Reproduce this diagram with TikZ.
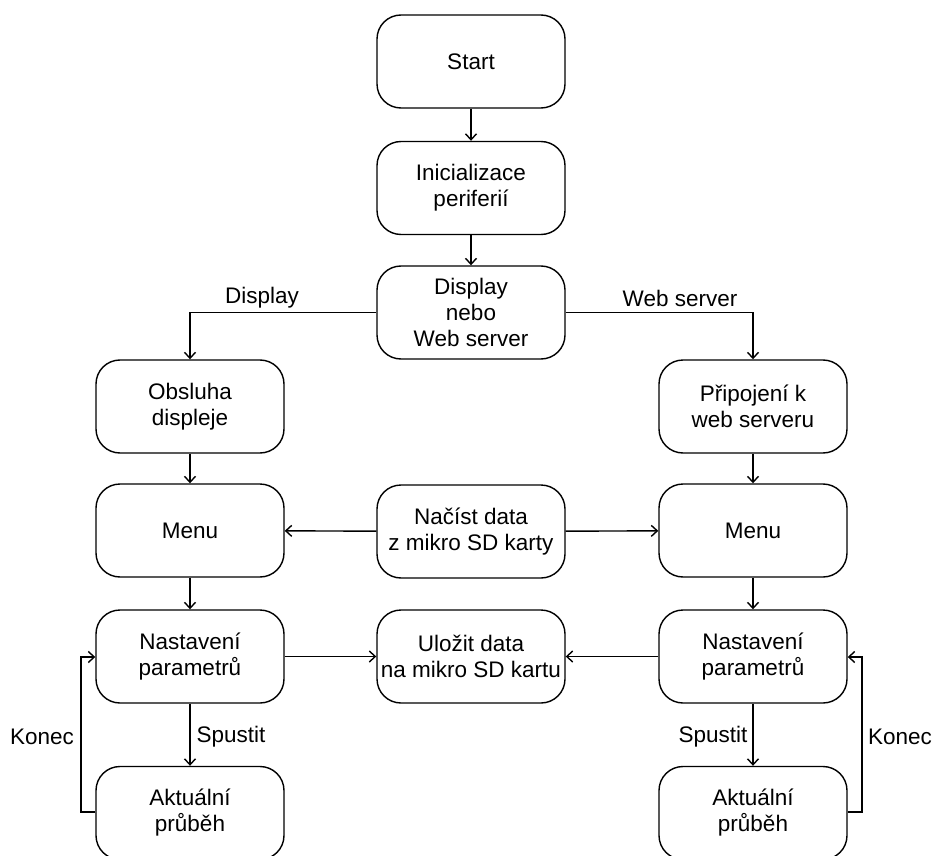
\documentclass[tikz,border=0pt]{standalone}
\usepackage{fontspec}
\setmainfont{Liberation Sans}
\usetikzlibrary{arrows.meta}
\begin{document}
\begin{tikzpicture}[x=1pt,y=1pt,
  box/.style={draw, line width=1.4pt, rounded corners=24pt, minimum width=188pt, minimum height=93pt, align=center, inner sep=0pt, font=\fontsize{22.5}{26}\selectfont},
  conn/.style={line width=1.4pt, -{Straight Barb[length=6pt,width=11pt,line width=1.4pt]}},
  lbl/.style={font=\fontsize{22.5}{26}\selectfont, inner sep=0pt}]
\clip (0,0) rectangle (935,-856);
\useasboundingbox (0,0) rectangle (935,-856);
\node[box] (start) at (471,-61.5) {Start};
\node[box] (init) at (471,-188) {Inicializace\\periferií};
\node[box] (choice) at (471,-312.5) {Display\\nebo\\Web server};
\node[box] (obs) at (190,-406.5) {Obsluha\\displeje};
\node[box] (pri) at (753,-406.5) {Připojení k\\web serveru};
\node[box] (menuL) at (190,-530.5) {Menu};
\node[box] (nacist) at (471,-531.5) {Načíst data\\z mikro SD karty};
\node[box] (menuR) at (753,-530.5) {Menu};
\node[box] (nastL) at (190,-656.5) {Nastavení\\parametrů};
\node[box] (ulozit) at (471,-656.5) {Uložit data\\na mikro SD kartu};
\node[box] (nastR) at (753,-656.5) {Nastavení\\parametrů};
\node[box] (aktL) at (190,-813) {Aktuální\\průběh};
\node[box] (aktR) at (753,-813) {Aktuální\\průběh};

\draw[conn] (start) -- (init);
\draw[conn] (init) -- (choice);
\draw[conn] (choice.west) -| (obs.north);
\draw[conn] (choice.east) -| (pri.north);
\node[lbl] (lblD) at (262,-298) {Display};
\node[lbl] (lblW) at (680,-298) {Web server};
\draw[conn] (obs) -- (menuL);
\draw[conn] (pri) -- (menuR);
\draw[conn] (nacist) -- (menuL);
\draw[conn] (nacist) -- (menuR);
\draw[conn] (menuL) -- (nastL);
\draw[conn] (menuR) -- (nastR);
\draw[conn] (nastL) -- (ulozit);
\draw[conn] (nastR) -- (ulozit);
\draw[conn] (nastL) -- (aktL);
\draw[conn] (nastR) -- (aktR);
\node[lbl] (spL) at (231,-737) {Spustit};
\node[lbl] (spR) at (713,-737) {Spustit};
\coordinate (loopL1) at (81,-812);
\coordinate (loopL2) at (81,-657);
\coordinate (loopR1) at (862,-812);
\coordinate (loopR2) at (862,-657);
\draw[conn] (aktL.west |- loopL1) -- (loopL1) -- (loopL2) -- (nastL.west |- loopL2);
\draw[conn] (aktR.east |- loopR1) -- (loopR1) -- (loopR2) -- (nastR.east |- loopR2);
\node[lbl] (koL) at (42,-737) {Konec};
\node[lbl] (koR) at (900,-737) {Konec};
\end{tikzpicture}
\end{document}
